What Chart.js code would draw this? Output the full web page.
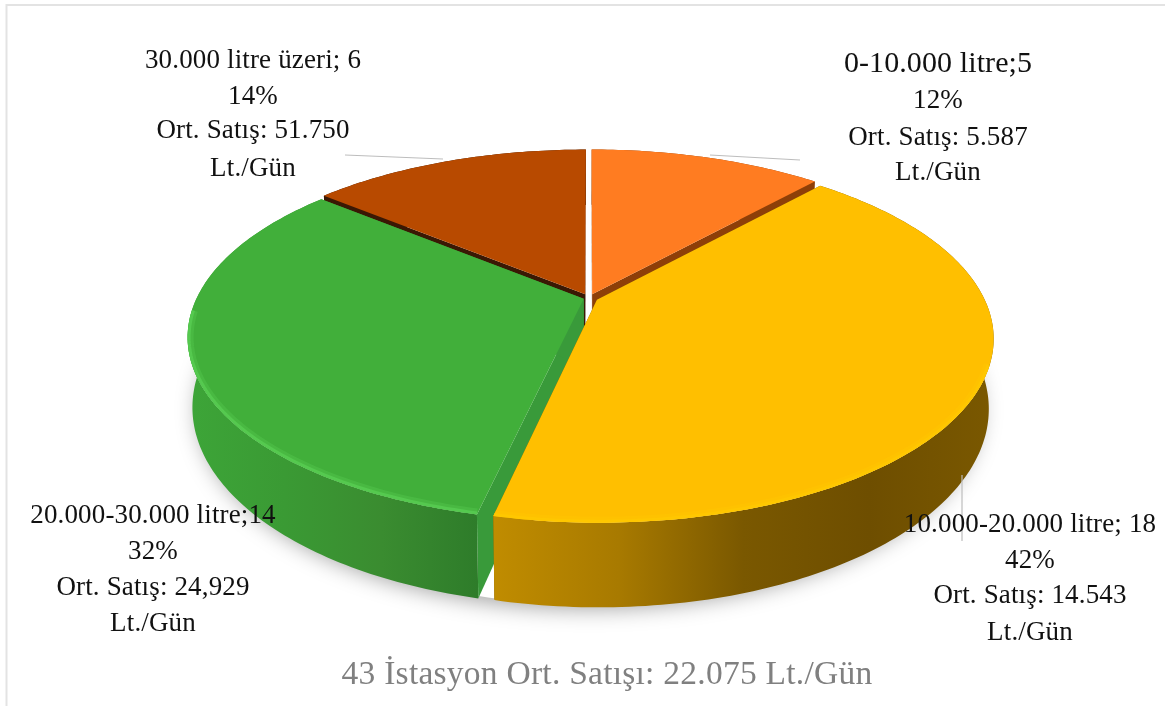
<!DOCTYPE html>
<html><head><meta charset="utf-8">
<style>html,body{margin:0;padding:0;background:#fff}canvas{display:block}</style>
<script src="https://cdn.jsdelivr.net/npm/chart.js@4"></script>
</head><body><canvas id="c" width="1165" height="706"></canvas>
<script>
const categories = ['0-10.000 litre;5','10.000-20.000 litre; 18','20.000-30.000 litre;14','30.000 litre üzeri; 6'];
const stationCounts = [5,18,14,6];
const percentLabels = ['12%','42%','32%','14%'];
const avgSales = ['Ort. Satış: 5.587','Ort. Satış: 14.543','Ort. Satış: 24,929','Ort. Satış: 51.750'];
const unitLabel = 'Lt./Gün';
const footerTitle = '43 İstasyon Ort. Satışı: 22.075 Lt./Gün';
const topColors = ['#FF7C21','#FFBF00','#41AF3A','#B84A00'];
const rimColors = [null,'#FFC700','#55C94F',null];
const cutColors = ['#8E3F08','#7A5800','#399A3A','#3A1804'];
const wallStops = [['#8E3F08','#8E3F08'],['#C08C00','#A87A00','#7A5800','#6E4E00','#7A5800'],['#3DA538','#3A9A34','#3A8C30','#2E7C2A'],['#3A1804','#3A1804']];
const explodeOffsets = [8,8,5,8];
const paintOrder = [3,0,2,1];
const labelBoxes = [[938,[72,108,145,180]],[1030,[532,568,603,640]],[153,[523,559,595,631]],[253,[68,104,138,176]]];
const leaderLines = [[710,155,800,160],[345,155,443,159],[962,475,962,541]];
const proj = {cx:589,cy:298,R:387,S:176,k:0.2063,D:67,shrink:0.012};

function P(a,r,ox,oy,z){
  const u=ox+r*Math.cos(a),v=oy+r*Math.sin(a),w=1-proj.k*v;
  return [proj.cx+proj.R*u/w*(1-proj.shrink*z), proj.cy+proj.S*v/w+z*proj.D/w];
}
function arcPts(s,e,ox,oy,z){
  const n=Math.max(8,Math.ceil(Math.abs(e-s)*60)),pts=[];
  for(let i=0;i<=n;i++)pts.push(P(s+(e-s)*i/n,1,ox,oy,z));
  return pts;
}
function poly(ctx,pts){ctx.beginPath();pts.forEach((p,i)=>i?ctx.lineTo(p[0],p[1]):ctx.moveTo(p[0],p[1]));ctx.closePath();}

const pie3d = {
  id:'pie3d',
  beforeDraw(chart){
    const ctx=chart.ctx;
    ctx.save();
    ctx.strokeStyle='#E3E3E3';ctx.lineWidth=2;
    ctx.beginPath();ctx.moveTo(6.5,706);ctx.lineTo(6.5,5);ctx.lineTo(1165,5);ctx.stroke();
    ctx.restore();
  },
  beforeDatasetDraw(chart,args){
    const ctx=chart.ctx,arcs=args.meta.data;
    ctx.save();
    ctx.shadowColor='rgba(0,0,0,0.38)';ctx.shadowBlur=22;ctx.shadowOffsetY=4;
    ctx.fillStyle='#fff';
    poly(ctx,arcPts(0,Math.PI*2,0,0,1));ctx.fill();
    ctx.shadowColor='transparent';
    poly(ctx,arcPts(0,Math.PI*2,0,0,0));ctx.fill();
    ctx.restore();
    paintOrder.forEach(i=>{
      const el=arcs[i],s=el.startAngle,e=el.endAngle,b=(s+e)/2;
      const o=el.options.offset/el.outerRadius,ox=o*Math.cos(b),oy=o*Math.sin(b);
      const top=arcPts(s,e,ox,oy,0),bot=arcPts(s,e,ox,oy,1);
      // cut faces
      ctx.fillStyle=cutColors[i];
      [s,e].forEach(a=>{
        poly(ctx,[P(0,0,ox,oy,0),P(a,1,ox,oy,0),P(a,1,ox,oy,1),P(0,0,ox,oy,1)]);ctx.fill();
      });
      // outer wall
      const xs=top.concat(bot).map(p=>p[0]),x0=Math.min(...xs),x1=Math.max(...xs);
      const g=ctx.createLinearGradient(x0,0,x1,0);
      wallStops[i].forEach((c,j,a)=>g.addColorStop(j/(a.length-1),c));
      ctx.fillStyle=g;
      poly(ctx,top.concat(bot.slice().reverse()));ctx.fill();
      // top face
      const face=[P(0,0,ox,oy,0)].concat(top);
      ctx.fillStyle=topColors[i];
      poly(ctx,face);ctx.fill();
      // bevel highlight on the front rim
      if(rimColors[i]){
        ctx.save();poly(ctx,face);ctx.clip();
        const from=Math.max(s,0.35),to=Math.min(e,Math.PI*0.98);
        const front=arcPts(from,to,ox,oy,0);
        ctx.strokeStyle=rimColors[i];ctx.lineJoin='round';
        ctx.beginPath();front.forEach((p,j)=>j?ctx.lineTo(p[0],p[1]):ctx.moveTo(p[0],p[1]));
        ctx.globalAlpha=.4;ctx.lineWidth=12;ctx.stroke();
        ctx.globalAlpha=1;ctx.lineWidth=6;ctx.stroke();
        ctx.restore();
      }
    });
    return false;
  },
  afterDraw(chart){
    const ctx=chart.ctx;
    ctx.save();
    ctx.strokeStyle='#BDBDBD';ctx.lineWidth=1.2;
    leaderLines.forEach(l=>{ctx.beginPath();ctx.moveTo(l[0],l[1]);ctx.lineTo(l[2],l[3]);ctx.stroke();});
    ctx.textAlign='center';ctx.textBaseline='alphabetic';ctx.fillStyle='#111';
    labelBoxes.forEach((b,i)=>{
      const lines=[categories[i],percentLabels[i],avgSales[i],unitLabel];
      lines.forEach((t,j)=>{
        const big=i===0&&j===0;
        ctx.letterSpacing=big?'0.1px':'0.15px';
        ctx.font=(big?30:27)+'px "Liberation Serif"';
        ctx.fillText(t,b[0],b[1][j]);
      });
    });
    ctx.fillStyle='#808080';ctx.letterSpacing='0.25px';ctx.font='33.5px "Liberation Serif"';
    ctx.fillText(footerTitle,607,684);
    ctx.restore();
  }
};
new Chart(document.getElementById('c'),{
  type:'pie',
  data:{labels:categories,datasets:[{data:stationCounts,backgroundColor:topColors,offset:explodeOffsets,borderWidth:0}]},
  options:{responsive:false,animation:false,plugins:{legend:{display:false},tooltip:{enabled:false},title:{display:false}}},
  plugins:[pie3d]
});
</script></body></html>
